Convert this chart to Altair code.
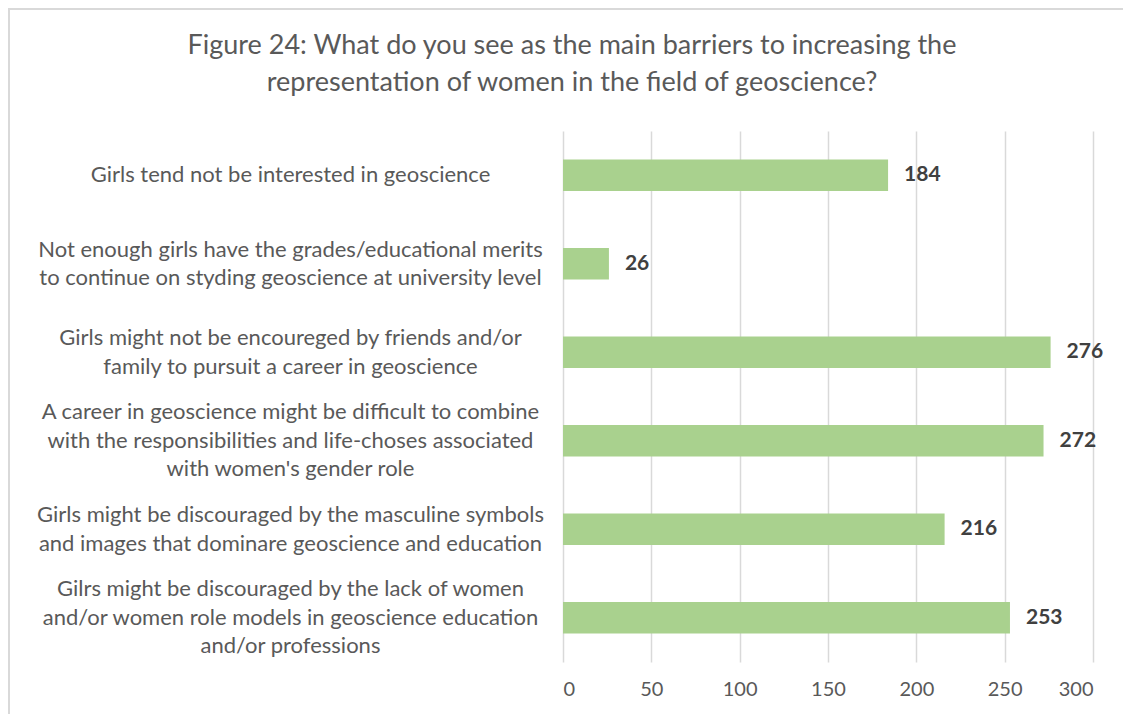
import altair as alt
import pandas as pd

categories = [
    "Girls tend not be interested in geoscience",
    "Not enough girls have the grades/educational merits|to continue on styding geoscience at university level",
    "Girls might not be encoureged by friends and/or|family to pursuit a career in geoscience",
    "A career in geoscience might be difficult to combine|with the responsibilities and life-choses associated|with women's gender role",
    "Girls might be discouraged by the masculine symbols|and images that dominare geoscience and education",
    "Gilrs might be discouraged by the lack of women|and/or women role models in geoscience education|and/or professions",
]
values = [184, 26, 276, 272, 216, 253]
x_ticks = [0, 50, 100, 150, 200, 250, 300]

df = pd.DataFrame({"cat": categories, "val": values})

FONT = "Lato"
GRID = "#d9d9d9"
TXT = "#595959"
LH = 28.5

y_enc = alt.Y(
    "cat:N",
    sort=categories,
    title=None,
    scale=alt.Scale(paddingInner=0.645, paddingOuter=0.3225),
    axis=alt.Axis(
        labelExpr="split(datum.label, '|')",
        labelAlign="center",
        labelBaseline="middle",
        labelOffset={"expr": f"-(length(split(datum.label, '|')) - 1) * {LH / 2}"},
        labelPadding=273,
        labelLimit=0,
        labelFontSize=22,
        labelLineHeight=LH,
        labelColor=TXT,
        labelFont=FONT,
        ticks=False,
        domain=False,
        grid=False,
    ),
)

x_enc = alt.X(
    "val:Q",
    title=None,
    scale=alt.Scale(domain=[0, 300], nice=False),
    axis=alt.Axis(
        values=x_ticks,
        grid=True,
        gridColor=GRID,
        gridWidth=1.5,
        ticks=False,
        domain=False,
        labelFontSize=20,
        labelColor=TXT,
        labelFont=FONT,
        labelPadding=17,
    ),
)

border = alt.Chart(pd.DataFrame({"a": [0]})).mark_rect(
    fill="transparent", stroke=GRID, strokeWidth=2
).encode(
    x=alt.value(-554), x2=alt.value(700), y=alt.value(-122), y2=alt.value(800)
)

bars = alt.Chart(df).mark_bar(color="#a9d18e").encode(y=y_enc, x=x_enc)

labels = alt.Chart(df).mark_text(
    align="left", baseline="middle", dx=16, font=FONT, fontSize=21,
    fontWeight="bold", color="#404040"
).encode(y=alt.Y("cat:N", sort=categories), x="val:Q", text="val:Q")

chart = alt.layer(border, bars, labels).properties(
    width=530,
    height=531,
    autosize=alt.AutoSizeParams(type="none"),
    padding={"left": 555, "top": 123, "right": 30, "bottom": 52},
    title=alt.TitleParams(
        text=["Figure 24: What do you see as the main barriers to increasing the",
              "representation of women in the field of geoscience?"],
        fontSize=27,
        font=FONT,
        fontWeight="normal",
        color=TXT,
        lineHeight=37,
        anchor="middle",
        dx=-256,
        offset=-89,
    ),
).configure_view(stroke=None)

chart.save("out.html", embed_options={"renderer": "svg", "actions": False})
